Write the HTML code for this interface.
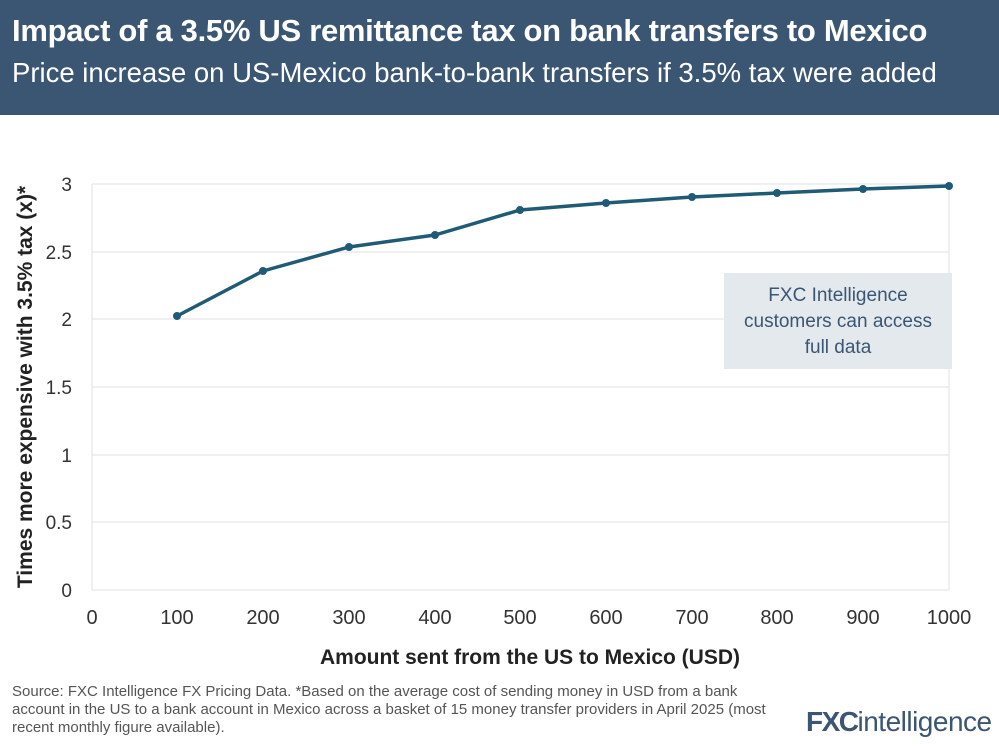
<!DOCTYPE html>
<html><head><meta charset="utf-8"><style>
body{margin:0;width:999px;height:749px;background:#fff;font-family:"Liberation Sans",sans-serif;overflow:hidden;position:relative}
.hdr{position:absolute;left:0;top:0;width:999px;height:115px;background:#3a5673;color:#fff}
.t1{position:absolute;left:12px;top:13px;font-size:31px;font-weight:bold;letter-spacing:-0.3px}
.t2{position:absolute;left:12px;top:57px;font-size:27.5px}
.src{position:absolute;left:12px;top:683px;font-size:15px;color:#555;line-height:18px;width:775px}
.logo{position:absolute;left:806px;top:706px;font-size:28px;font-weight:bold;color:#3a5673;letter-spacing:-1.5px}
.box{position:absolute;left:724px;top:273px;width:228px;height:96px;background:#e4e9ee;color:#3a5673;font-size:19px;text-align:center;line-height:26px;box-sizing:border-box;padding-top:10px}
</style></head><body>
<div class="hdr"><div class="t1">Impact of a 3.5% US remittance tax on bank transfers to Mexico</div><div class="t2">Price increase on US-Mexico bank-to-bank transfers if 3.5% tax were added</div></div>
<svg width="999" height="749" style="position:absolute;left:0;top:0">
<g stroke="#e2e2e2" stroke-width="1">
<line x1="92" y1="184" x2="949" y2="184"/><line x1="92" y1="252" x2="949" y2="252"/><line x1="92" y1="319" x2="949" y2="319"/><line x1="92" y1="387" x2="949" y2="387"/><line x1="92" y1="455" x2="949" y2="455"/><line x1="92" y1="522" x2="949" y2="522"/><line x1="92" y1="590" x2="949" y2="590"/>
<line x1="949" y1="184" x2="949" y2="590"/><line x1="92" y1="184" x2="92" y2="590"/>
</g>
<g font-size="19" fill="#333" text-anchor="end">
<text x="72" y="191">3</text><text x="72" y="259">2.5</text><text x="72" y="326">2</text><text x="72" y="394">1.5</text><text x="72" y="462">1</text><text x="72" y="529">0.5</text><text x="72" y="597">0</text>
</g>
<g font-size="20" fill="#333" text-anchor="middle">
<text x="92" y="624">0</text><text x="177" y="624">100</text><text x="263" y="624">200</text><text x="349" y="624">300</text><text x="435" y="624">400</text><text x="520" y="624">500</text><text x="606" y="624">600</text><text x="692" y="624">700</text><text x="777" y="624">800</text><text x="863" y="624">900</text><text x="949" y="624">1000</text>
</g>
<text x="530" y="664" font-size="21" font-weight="bold" fill="#222" text-anchor="middle">Amount sent from the US to Mexico (USD)</text>
<text transform="translate(32,387) rotate(-90)" font-size="21" font-weight="bold" fill="#222" text-anchor="middle">Times more expensive with 3.5% tax (x)*</text>
<polyline fill="none" stroke="#1f5b75" stroke-width="3.5" stroke-linejoin="round" points="177,316 263,271 349,247 435,235 520,210 606,203 692,197 777,193 863,189 949,186"/>
<g fill="#1f5b75"><circle cx="177" cy="316" r="4"/><circle cx="263" cy="271" r="4"/><circle cx="349" cy="247" r="4"/><circle cx="435" cy="235" r="4"/><circle cx="520" cy="210" r="4"/><circle cx="606" cy="203" r="4"/><circle cx="692" cy="197" r="4"/><circle cx="777" cy="193" r="4"/><circle cx="863" cy="189" r="4"/><circle cx="949" cy="186" r="4"/></g>
</svg>
<div class="box">FXC Intelligence<br>customers can access<br>full data</div>
<div class="src">Source: FXC Intelligence FX Pricing Data. *Based on the average cost of sending money in USD from a bank account in the US to a bank account in Mexico across a basket of 15 money transfer providers in April 2025 (most recent monthly figure available).</div>
<div class="logo">FXC<span style="font-weight:normal;letter-spacing:-0.5px">intelligence</span></div>
</body></html>
